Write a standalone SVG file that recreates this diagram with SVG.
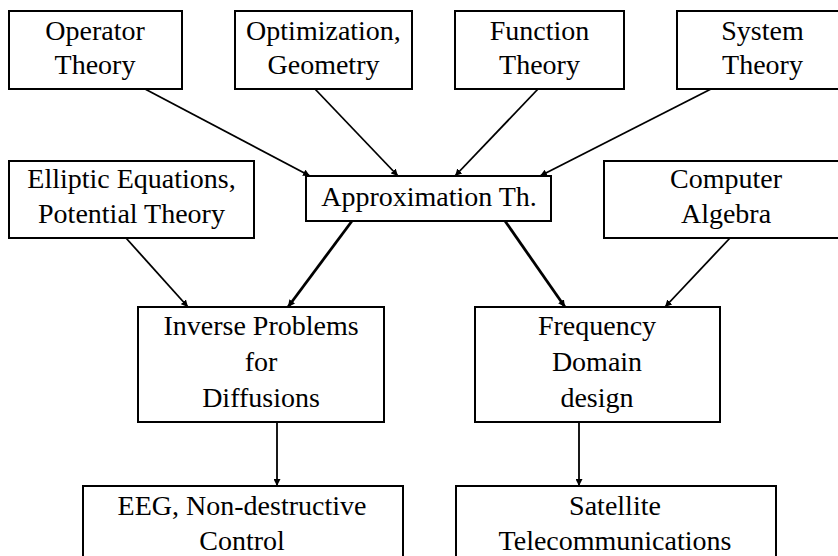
<svg xmlns="http://www.w3.org/2000/svg" width="838" height="556" viewBox="0 0 838 556">
<style>
.box{fill:#fff;stroke:#000;stroke-width:2}
text{font-family:"Liberation Serif","Times New Roman",serif;font-size:28px;fill:#000;text-anchor:middle}
.c{stroke:#000;stroke-width:1.8;fill:none;marker-end:url(#ah)}
.t{stroke-width:2.8}
</style>
<defs>
<marker id="ah" viewBox="0 0 10 10" refX="10" refY="5" markerWidth="7" markerHeight="7" markerUnits="userSpaceOnUse" orient="auto">
<path d="M0,0 L10,5 L0,10 z" fill="#000"/>
</marker>
</defs>
<rect width="838" height="556" fill="#fff"/>
<g id="connectors">
<line class="c" x1="145" y1="89" x2="310" y2="176"/>
<line class="c" x1="315" y1="89" x2="398" y2="176"/>
<line class="c" x1="538" y1="89" x2="455" y2="176"/>
<line class="c" x1="711" y1="89" x2="540" y2="176"/>
<line class="c" x1="126" y1="238" x2="188" y2="307"/>
<line class="c t" x1="352" y1="221" x2="288" y2="307"/>
<line class="c t" x1="505" y1="221" x2="565" y2="307"/>
<line class="c" x1="730" y1="238" x2="665" y2="307"/>
<line class="c" x1="277" y1="422" x2="277" y2="486"/>
<line class="c" x1="579" y1="422" x2="579" y2="486"/>
</g>
<g id="operator"><rect class="box" x="9" y="11" width="173" height="78"/><text x="95" y="40">Operator</text><text x="95" y="74">Theory</text></g>
<g id="optimization"><rect class="box" x="235" y="11" width="177" height="78"/><text x="323.5" y="40">Optimization,</text><text x="323.5" y="74">Geometry</text></g>
<g id="function"><rect class="box" x="455" y="11" width="169" height="78"/><text x="539.5" y="40">Function</text><text x="539.5" y="74">Theory</text></g>
<g id="system"><rect class="box" x="677" y="11" width="172" height="78"/><text x="762.5" y="40">System</text><text x="762.5" y="74">Theory</text></g>
<g id="approximation"><rect class="box" x="306" y="176" width="245" height="45"/><text x="429" y="206">Approximation Th.</text></g>
<g id="elliptic"><rect class="box" x="9" y="161" width="245" height="77"/><text x="131.5" y="188">Elliptic Equations,</text><text x="131.5" y="223">Potential Theory</text></g>
<g id="computer"><rect class="box" x="604" y="161" width="245" height="77"/><text x="726" y="188">Computer</text><text x="726" y="223">Algebra</text></g>
<g id="inverse"><rect class="box" x="138" y="307" width="246" height="115"/><text x="261" y="335">Inverse Problems</text><text x="261" y="371">for</text><text x="261" y="407">Diffusions</text></g>
<g id="frequency"><rect class="box" x="475" y="307" width="245" height="115"/><text x="597" y="335">Frequency</text><text x="597" y="371">Domain</text><text x="597" y="407">design</text></g>
<g id="eeg"><rect class="box" x="83" y="486" width="320" height="80"/><text x="242" y="515">EEG, Non-destructive</text><text x="242" y="550">Control</text></g>
<g id="satellite"><rect class="box" x="456" y="486" width="320" height="80"/><text x="615" y="515">Satellite</text><text x="615" y="550">Telecommunications</text></g>
</svg>
